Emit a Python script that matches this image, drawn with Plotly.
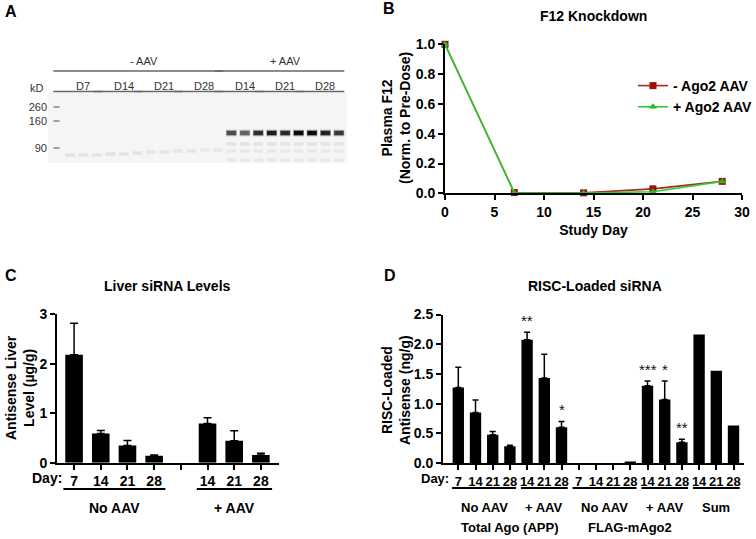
import plotly.graph_objects as go

W, H = 756, 539


def px(x):
    return x / W


def py(y):
    return 1 - y / H


FONT = "Liberation Sans, Arial, sans-serif"

# ---------------- Panel A (western blot) data ----------------
gel_minus_days = ["D7", "D14", "D21", "D28"]
gel_plus_days = ["D14", "D21", "D28"]
lanes_per_day = 3
marker_kd = [260, 160, 90]
marker_migration = [14, 28, 55]          # migration distance (arb. units from gel top)
plus_band_migration = 40
plus_band_intensity = [0.72, 0.62, 0.85, 0.92, 0.86, 1.0, 1.0, 0.9, 0.8]
plus_minor_migration = [51, 58, 67]
plus_minor_intensity = [0.07, 0.05, 0.05]
minus_faint_migration = [62, 62, 62, 61, 61, 60, 59, 59, 58, 58, 57, 57]
minus_faint_intensity = [0.08, 0.07, 0.07, 0.08, 0.07, 0.07, 0.06, 0.06, 0.06, 0.06, 0.05, 0.05]

# ---------------- Panel B data ----------------
b_days = [0, 7, 14, 21, 28]
b_minus_ago2 = [1.0, 0.005, 0.003, 0.03, 0.08]
b_plus_ago2 = [1.0, 0.003, 0.002, 0.01, 0.08]

# ---------------- Panel C data ----------------
c_noaav_days = ["7", "14", "21", "28"]
c_noaav_mean = [2.18, 0.59, 0.35, 0.14]
c_noaav_err = [0.64, 0.06, 0.10, 0.015]
c_aav_days = ["14", "21", "28"]
c_aav_mean = [0.79, 0.445, 0.155]
c_aav_err = [0.12, 0.20, 0.035]

# ---------------- Panel D data ----------------
d_tot_noaav_days = ["7", "14", "21", "28"]
d_tot_noaav_mean = [1.27, 0.85, 0.475, 0.28]
d_tot_noaav_err = [0.34, 0.21, 0.055, 0.02]
d_tot_aav_days = ["14", "21", "28"]
d_tot_aav_mean = [2.075, 1.43, 0.60]
d_tot_aav_err = [0.125, 0.40, 0.10]
d_tot_aav_sig = ["**", "", "*"]
d_flag_noaav_days = ["7", "14", "21", "28"]
d_flag_noaav_mean = [0.0, 0.0, 0.0, 0.012]
d_flag_aav_days = ["14", "21", "28"]
d_flag_aav_mean = [1.30, 1.07, 0.35]
d_flag_aav_err = [0.08, 0.31, 0.05]
d_flag_aav_sig = ["***", "*", "**"]
d_sum_days = ["14", "21", "28"]
d_sum_mean = [2.165, 1.555, 0.63]

fig = go.Figure()
annotations = []
shapes = []


def ann(x, y, text, size=14, bold=True, xanchor="center", yanchor="middle",
        xref="paper", yref="paper", angle=0, color="black", family=FONT):
    annotations.append(dict(
        x=x, y=y, xref=xref, yref=yref, text=text, showarrow=False,
        xanchor=xanchor, yanchor=yanchor, textangle=angle,
        font=dict(family=family, size=size, color=color,
                  weight="bold" if bold else "normal")))


# ======================= Panel A: gel =======================
n_minus = len(gel_minus_days) * lanes_per_day
n_plus = len(gel_plus_days) * lanes_per_day
minus_lanes = list(range(1, n_minus + 1))
plus_lanes = list(range(n_minus + 1, n_minus + n_plus + 1))


def gray(intensity):
    v = int(244 - 234 * intensity)
    return f"rgb({v},{v},{v})"


# gel background
shapes.append(dict(type="rect", xref="x4 domain", yref="y4 domain", x0=0, x1=1, y0=0, y1=1,
                   fillcolor="#f5f5f5", line=dict(width=0), layer="below"))
# marker ladder
fig.add_trace(go.Bar(x=[0] * len(marker_kd), y=[1.6] * len(marker_kd),
                     base=[m - 0.8 for m in marker_migration], width=0.45,
                     marker=dict(color="#a0a0a0", line=dict(width=0)),
                     xaxis="x4", yaxis="y4", showlegend=False, hoverinfo="skip"))
# faint bands in -AAV lanes
fig.add_trace(go.Bar(x=minus_lanes, y=[3.5] * n_minus,
                     base=[m - 1.75 for m in minus_faint_migration], width=0.7,
                     marker=dict(color=[gray(i) for i in minus_faint_intensity], line=dict(width=0)),
                     xaxis="x4", yaxis="y4", showlegend=False, hoverinfo="skip"))
# minor bands in +AAV lanes
for mig, inten in zip(plus_minor_migration, plus_minor_intensity):
    fig.add_trace(go.Bar(x=plus_lanes, y=[3.5] * n_plus, base=[mig - 1.75] * n_plus, width=0.7,
                         marker=dict(color=gray(inten), line=dict(width=0)),
                         xaxis="x4", yaxis="y4", showlegend=False, hoverinfo="skip"))
# main Ago2 band in +AAV lanes (halo + core)
fig.add_trace(go.Bar(x=plus_lanes, y=[6.5] * n_plus, base=[plus_band_migration - 3.25] * n_plus, width=0.8,
                     marker=dict(color=[gray(i * 0.4) for i in plus_band_intensity], line=dict(width=0)),
                     xaxis="x4", yaxis="y4", showlegend=False, hoverinfo="skip"))
fig.add_trace(go.Bar(x=plus_lanes, y=[4.2] * n_plus, base=[plus_band_migration - 2.1] * n_plus, width=0.7,
                     marker=dict(color=[gray(i) for i in plus_band_intensity], line=dict(width=0)),
                     xaxis="x4", yaxis="y4", showlegend=False, hoverinfo="skip"))

# gel labels
A_COL = "#333333"
lane_groups = [(d, minus_lanes[k * 3:(k + 1) * 3]) for k, d in enumerate(gel_minus_days)] + \
              [(d, plus_lanes[k * 3:(k + 1) * 3]) for k, d in enumerate(gel_plus_days)]
for label, lanes in lane_groups:
    c = sum(lanes) / len(lanes)
    ann(c, py(86), label, size=11, bold=False, xref="x4", color=A_COL)
    shapes.append(dict(type="line", xref="x4", yref="paper", x0=lanes[0] - 1.25, x1=lanes[-1] + 0.4,
                       y0=py(91.5), y1=py(91.5), line=dict(color="#666666", width=1.3)))
for label, lanes in [("- AAV", minus_lanes), ("+ AAV", plus_lanes)]:
    ann((lanes[0] + lanes[-1]) / 2, py(61), label, size=11, bold=False, xref="x4", color=A_COL)
    shapes.append(dict(type="line", xref="x4", yref="paper", x0=lanes[0] - 1.25, x1=lanes[-1] + 0.4,
                       y0=py(71), y1=py(71), line=dict(color="#666666", width=1.3)))
ann(px(46), py(88), "kD", size=11, bold=False, xanchor="right", color=A_COL)

# ======================= Panel B =======================
fig.add_trace(go.Scatter(x=b_days, y=b_minus_ago2, mode="lines+markers", name="- Ago2 AAV",
                         line=dict(color="#a52a22", width=1.6),
                         marker=dict(symbol="square", size=7, color="#9e1010"),
                         cliponaxis=False, xaxis="x", yaxis="y"))
fig.add_trace(go.Scatter(x=b_days, y=b_plus_ago2, mode="lines+markers", name="+ Ago2 AAV",
                         line=dict(color="#2ecc2e", width=1.6),
                         marker=dict(symbol="triangle-up", size=7, color="#22bb22"),
                         cliponaxis=False, xaxis="x", yaxis="y"))

# ======================= Panel C =======================
c_labels = c_noaav_days + [""] + c_aav_days
c_pos_noaav = list(range(1, len(c_noaav_days) + 1))
c_pos_aav = list(range(len(c_noaav_days) + 2, len(c_labels) + 1))
for pos, mean, err in [(c_pos_noaav, c_noaav_mean, c_noaav_err), (c_pos_aav, c_aav_mean, c_aav_err)]:
    fig.add_trace(go.Bar(x=pos, y=mean, width=0.66, marker=dict(color="black", line=dict(width=0)),
                         error_y=dict(type="data", symmetric=False, array=err, arrayminus=[0] * len(err),
                                      color="black", thickness=1.5, width=4),
                         xaxis="x2", yaxis="y2", showlegend=False))
for name, pos in [("No AAV", c_pos_noaav), ("+ AAV", c_pos_aav)]:
    shapes.append(dict(type="line", xref="x2", yref="paper", x0=pos[0] - 0.4, x1=pos[-1] + 0.42,
                       y0=py(489), y1=py(489), line=dict(color="black", width=2)))
    ann((pos[0] + pos[-1]) / 2, py(508), name, size=14, xref="x2")
ann(px(64), py(478), "Day:", size=14, xanchor="right")

# ======================= Panel D =======================
d_groups = [
    ("No AAV", d_tot_noaav_days, d_tot_noaav_mean, d_tot_noaav_err, None),
    ("+ AAV", d_tot_aav_days, d_tot_aav_mean, d_tot_aav_err, d_tot_aav_sig),
    ("No AAV", d_flag_noaav_days, d_flag_noaav_mean, None, None),
    ("+ AAV", d_flag_aav_days, d_flag_aav_mean, d_flag_aav_err, d_flag_aav_sig),
    ("Sum", d_sum_days, d_sum_mean, None, None),
]
d_labels = []
d_group_pos = []
start = 0
for name, days, mean, err, sig in d_groups:
    pos = list(range(start, start + len(days)))
    start += len(days)
    d_labels += days
    d_group_pos.append(pos)
    kw = {}
    if err is not None:
        kw["error_y"] = dict(type="data", symmetric=False, array=err, arrayminus=[0] * len(err),
                             color="black", thickness=1.5, width=3)
    fig.add_trace(go.Bar(x=pos, y=mean, width=0.66, marker=dict(color="black", line=dict(width=0)),
                         xaxis="x3", yaxis="y3", showlegend=False, **kw))
    shapes.append(dict(type="line", xref="x3", yref="paper", x0=pos[0] - 0.36, x1=pos[-1] + 0.36,
                       y0=py(488), y1=py(488), line=dict(color="black", width=2)))
    ann((pos[0] + pos[-1]) / 2, py(507), name, size=13, xref="x3")
    if sig is not None:
        for p, m, e, s in zip(pos, mean, err, sig):
            if s:
                annotations.append(dict(x=p, y=m + e, xref="x3", yref="y3", text=s, showarrow=False,
                                        yanchor="bottom", yshift=1,
                                        font=dict(family=FONT, size=15, color="#111111")))
ann((d_group_pos[0][0] + d_group_pos[1][-1]) / 2, py(527), "Total Ago (APP)", size=13, xref="x3")
ann((d_group_pos[2][0] + d_group_pos[3][-1]) / 2, py(527), "FLAG-mAgo2", size=13, xref="x3")
ann(px(451), py(478), "Day:", size=13, xanchor="right")

# ======================= titles & panel letters =======================
ann(px(593), py(16), "F12 Knockdown", size=14)
ann(px(167), py(286), "Liver siRNA Levels", size=14)
ann(px(595), py(286), "RISC-Loaded siRNA", size=14)
ann(px(396), py(118), "Plasma F12<br>(Norm. to Pre-Dose)", size=14, angle=-90)
ann(px(20), py(388), "Antisense Liver<br>Level (µg/g)", size=14, angle=-90)
ann(px(396), py(390), "RISC-Loaded<br>Antisense (ng/g)", size=14, angle=-90)
for letter, x, y in [("A", 3, 12), ("B", 381, 8), ("C", 3, 275), ("D", 382, 275)]:
    ann(px(x), py(y), letter, size=16, xanchor="left")

axis_common = dict(showline=True, linecolor="black", linewidth=1.8, ticks="outside", ticklen=5,
                   tickwidth=1.5, tickcolor="black", showgrid=False, zeroline=False, automargin=False,
                   tickfont=dict(family=FONT, size=14, color="black", weight="bold"))

fig.update_layout(
    width=W, height=H, margin=dict(l=0, r=0, t=0, b=0, pad=0, autoexpand=False),
    paper_bgcolor="white", plot_bgcolor="white", barmode="overlay",
    font=dict(family=FONT, color="black"),
    xaxis=dict(domain=[px(445), px(742)], range=[0, 30], dtick=5, anchor="y",
               title=dict(text="Study Day", standoff=6,
                          font=dict(family=FONT, size=14, weight="bold")), **axis_common),
    yaxis=dict(domain=[py(193.3), py(44.3)], range=[0, 1], dtick=0.2, tickformat=".1f",
               anchor="x", **axis_common),
    xaxis2=dict(domain=[px(57), px(279.3)], range=[0.36, 8.69], tickvals=list(range(1, len(c_labels) + 1)),
                ticktext=c_labels, anchor="y2", **axis_common),
    yaxis2=dict(domain=[py(462.7), py(314.3)], range=[0, 3], dtick=1, anchor="x2", **axis_common),
    xaxis3=dict(domain=[px(443), px(744)], range=[-0.89, 16.61], tickvals=list(range(len(d_labels))),
                ticktext=d_labels, anchor="y3", **dict(axis_common, tickfont=dict(family=FONT, size=13, color="black", weight="bold"))),
    yaxis3=dict(domain=[py(463), py(314.5)], range=[0, 2.5], dtick=0.5, tickformat=".1f", anchor="x3",
                **axis_common),
    xaxis4=dict(domain=[px(48), px(347)], range=[-0.64, 21.6], visible=False, anchor="y4"),
    yaxis4=dict(domain=[py(163), py(93)], range=[70, 0], anchor="x4", showline=False, showgrid=False,
                zeroline=False, ticks="", tickvals=marker_migration, ticktext=[str(k) for k in marker_kd],
                automargin=False, tickfont=dict(family=FONT, size=11, color=A_COL)),
    legend=dict(x=px(633), y=py(70), xanchor="left", yanchor="top", bgcolor="rgba(0,0,0,0)",
                font=dict(family=FONT, size=14, weight="bold"), itemwidth=30, tracegroupgap=0),
    annotations=annotations, shapes=shapes,
)

fig.write_html("out.html", config={"displayModeBar": False},
               post_script="document.body.style.margin='0px';document.body.style.overflow='hidden';")
